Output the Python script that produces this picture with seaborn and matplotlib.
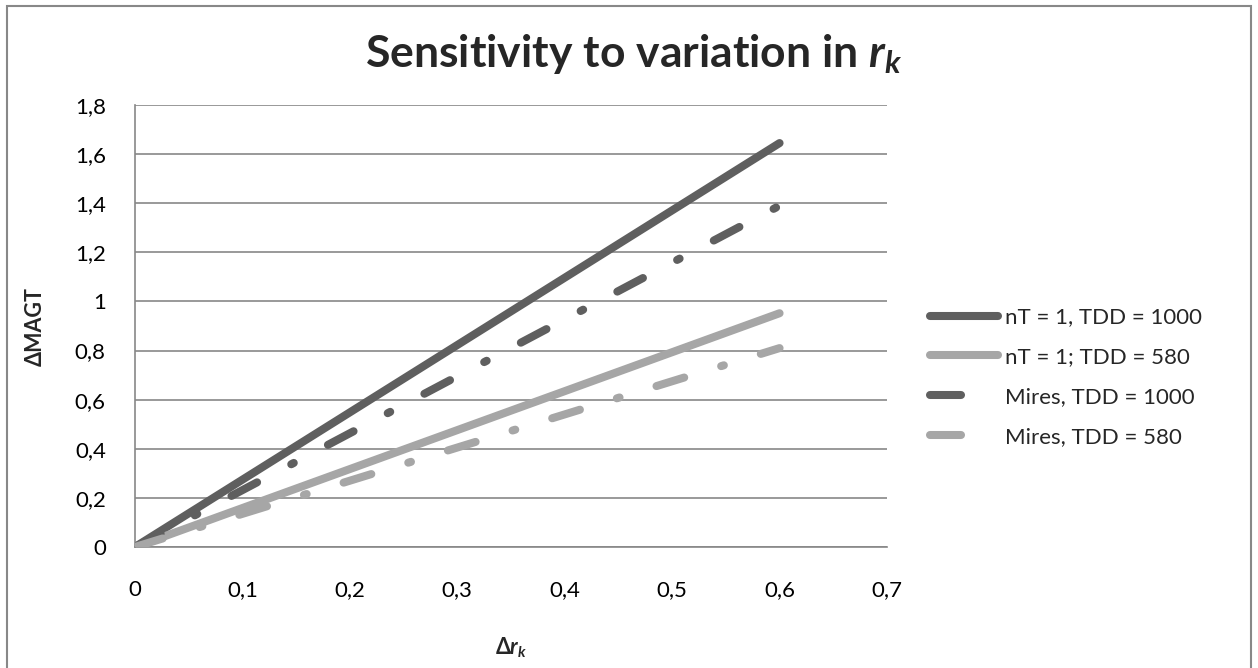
import matplotlib
matplotlib.use("Agg")
import matplotlib.pyplot as plt
from matplotlib.lines import Line2D
from matplotlib.patches import Rectangle
import seaborn as sns
import pandas as pd

# ---- data ----
x_values = [0.0, 0.6]
nT1_TDD1000 = [0.0, 1.645]
nT1_TDD580 = [0.0, 0.952]
mires_TDD1000 = [0.0, 1.39]
mires_TDD580 = [0.0, 0.81]
series_names = ["nT = 1, TDD = 1000", "nT = 1; TDD = 580",
                "Mires, TDD = 1000", "Mires, TDD = 580"]
x_ticks = [0, 0.1, 0.2, 0.3, 0.4, 0.5, 0.6, 0.7]
x_tick_labels = ["0", "0,1", "0,2", "0,3", "0,4", "0,5", "0,6", "0,7"]
y_ticks = [0, 0.2, 0.4, 0.6, 0.8, 1.0, 1.2, 1.4, 1.6, 1.8]
y_tick_labels = ["0", "0,2", "0,4", "0,6", "0,8", "1", "1,2", "1,4", "1,6", "1,8"]

rows = []
for name, vals in zip(series_names, [nT1_TDD1000, nT1_TDD580, mires_TDD1000, mires_TDD580]):
    for xv, yv in zip(x_values, vals):
        rows.append({"x": xv, "y": yv, "series": name})
df = pd.DataFrame(rows)

sns.set_theme(style="white")
plt.rcParams["font.family"] = ["Lato", "DejaVu Sans"]
plt.rcParams["mathtext.fontset"] = "custom"
plt.rcParams["mathtext.rm"] = "Lato"
plt.rcParams["mathtext.it"] = "Lato:italic"
plt.rcParams["mathtext.bf"] = "Lato:bold"
plt.rcParams["mathtext.bfit"] = "Lato:bold:italic"

DARK = "#5f5f5f"
LIGHT = "#a6a6a6"
GRID = "#878787"
palette = {series_names[0]: DARK, series_names[1]: LIGHT,
           series_names[2]: DARK, series_names[3]: LIGHT}
dash_pat = (3.6, 4.8, 0.35, 4.8)
dashes = {series_names[0]: "", series_names[1]: "",
          series_names[2]: dash_pat, series_names[3]: dash_pat}

fig = plt.figure(figsize=(12.58, 6.68), dpi=100)
ax = fig.add_axes([135 / 1258, 1 - 547 / 668, 752 / 1258, 442 / 668])

LW = 5.8
sns.lineplot(data=df, x="x", y="y", hue="series", style="series",
             hue_order=series_names, style_order=series_names,
             palette=palette, dashes=dashes, linewidth=LW,
             legend=False, ax=ax, zorder=3)
for ln in ax.get_lines():
    ln.set_solid_capstyle("round")
    ln.set_dash_capstyle("round")

ax.set_xlim(0, 0.7)
ax.set_ylim(0, 1.8)
ax.set_xticks(x_ticks)
ax.set_xticklabels(x_tick_labels)
ax.set_yticks(y_ticks)
ax.set_yticklabels(y_tick_labels)
ax.tick_params(axis="both", which="major", labelsize=16, colors=GRID,
               labelcolor="black", length=8, width=1.2, direction="out")
ax.tick_params(axis="x", pad=16)
ax.tick_params(axis="y", pad=13)
ax.yaxis.grid(True, color=GRID, linewidth=1.2)
ax.xaxis.grid(False)
for side in ["top", "right"]:
    ax.spines[side].set_visible(False)
for side in ["left", "bottom"]:
    ax.spines[side].set_color(GRID)
    ax.spines[side].set_linewidth(1.2)
ax.set_xlabel("")
ax.set_ylabel("")

fig.text(634 / 1258, 1 - 67 / 668, r"Sensitivity to variation in $\mathbfit{r_k}$",
         ha="center", va="baseline", fontsize=32, fontweight="bold")
fig.text(35.5 / 1258, 1 - 326 / 668, "ΔMAGT", rotation=90, ha="center", va="center",
         fontsize=15.5, fontweight="bold")
fig.text(511 / 1258, 1 - 654 / 668, r"Δ$\mathbfit{r_k}$", ha="center", va="baseline",
         fontsize=15.5, fontweight="bold")

handles = [
    Line2D([], [], color=DARK, lw=LW, solid_capstyle="round"),
    Line2D([], [], color=LIGHT, lw=LW, solid_capstyle="round"),
    Line2D([], [], color=DARK, lw=LW, linestyle=(0, (3.85, 100)), dash_capstyle="round"),
    Line2D([], [], color=LIGHT, lw=LW, linestyle=(0, (3.85, 100)), dash_capstyle="round"),
]
fig.legend(handles, series_names, loc="center left",
           bbox_to_anchor=(930 / 1258, 1 - 377 / 668), frameon=False,
           fontsize=16, handlelength=3.06, handletextpad=0.3,
           labelspacing=0.89, borderpad=0, borderaxespad=0)

fig.add_artist(Rectangle((7 / 1258, -0.05), 1244 / 1258, 1.05 - 6 / 668,
                         transform=fig.transFigure, fill=False,
                         edgecolor="#888888", linewidth=1.5))

fig.savefig("out.png", dpi=100)
